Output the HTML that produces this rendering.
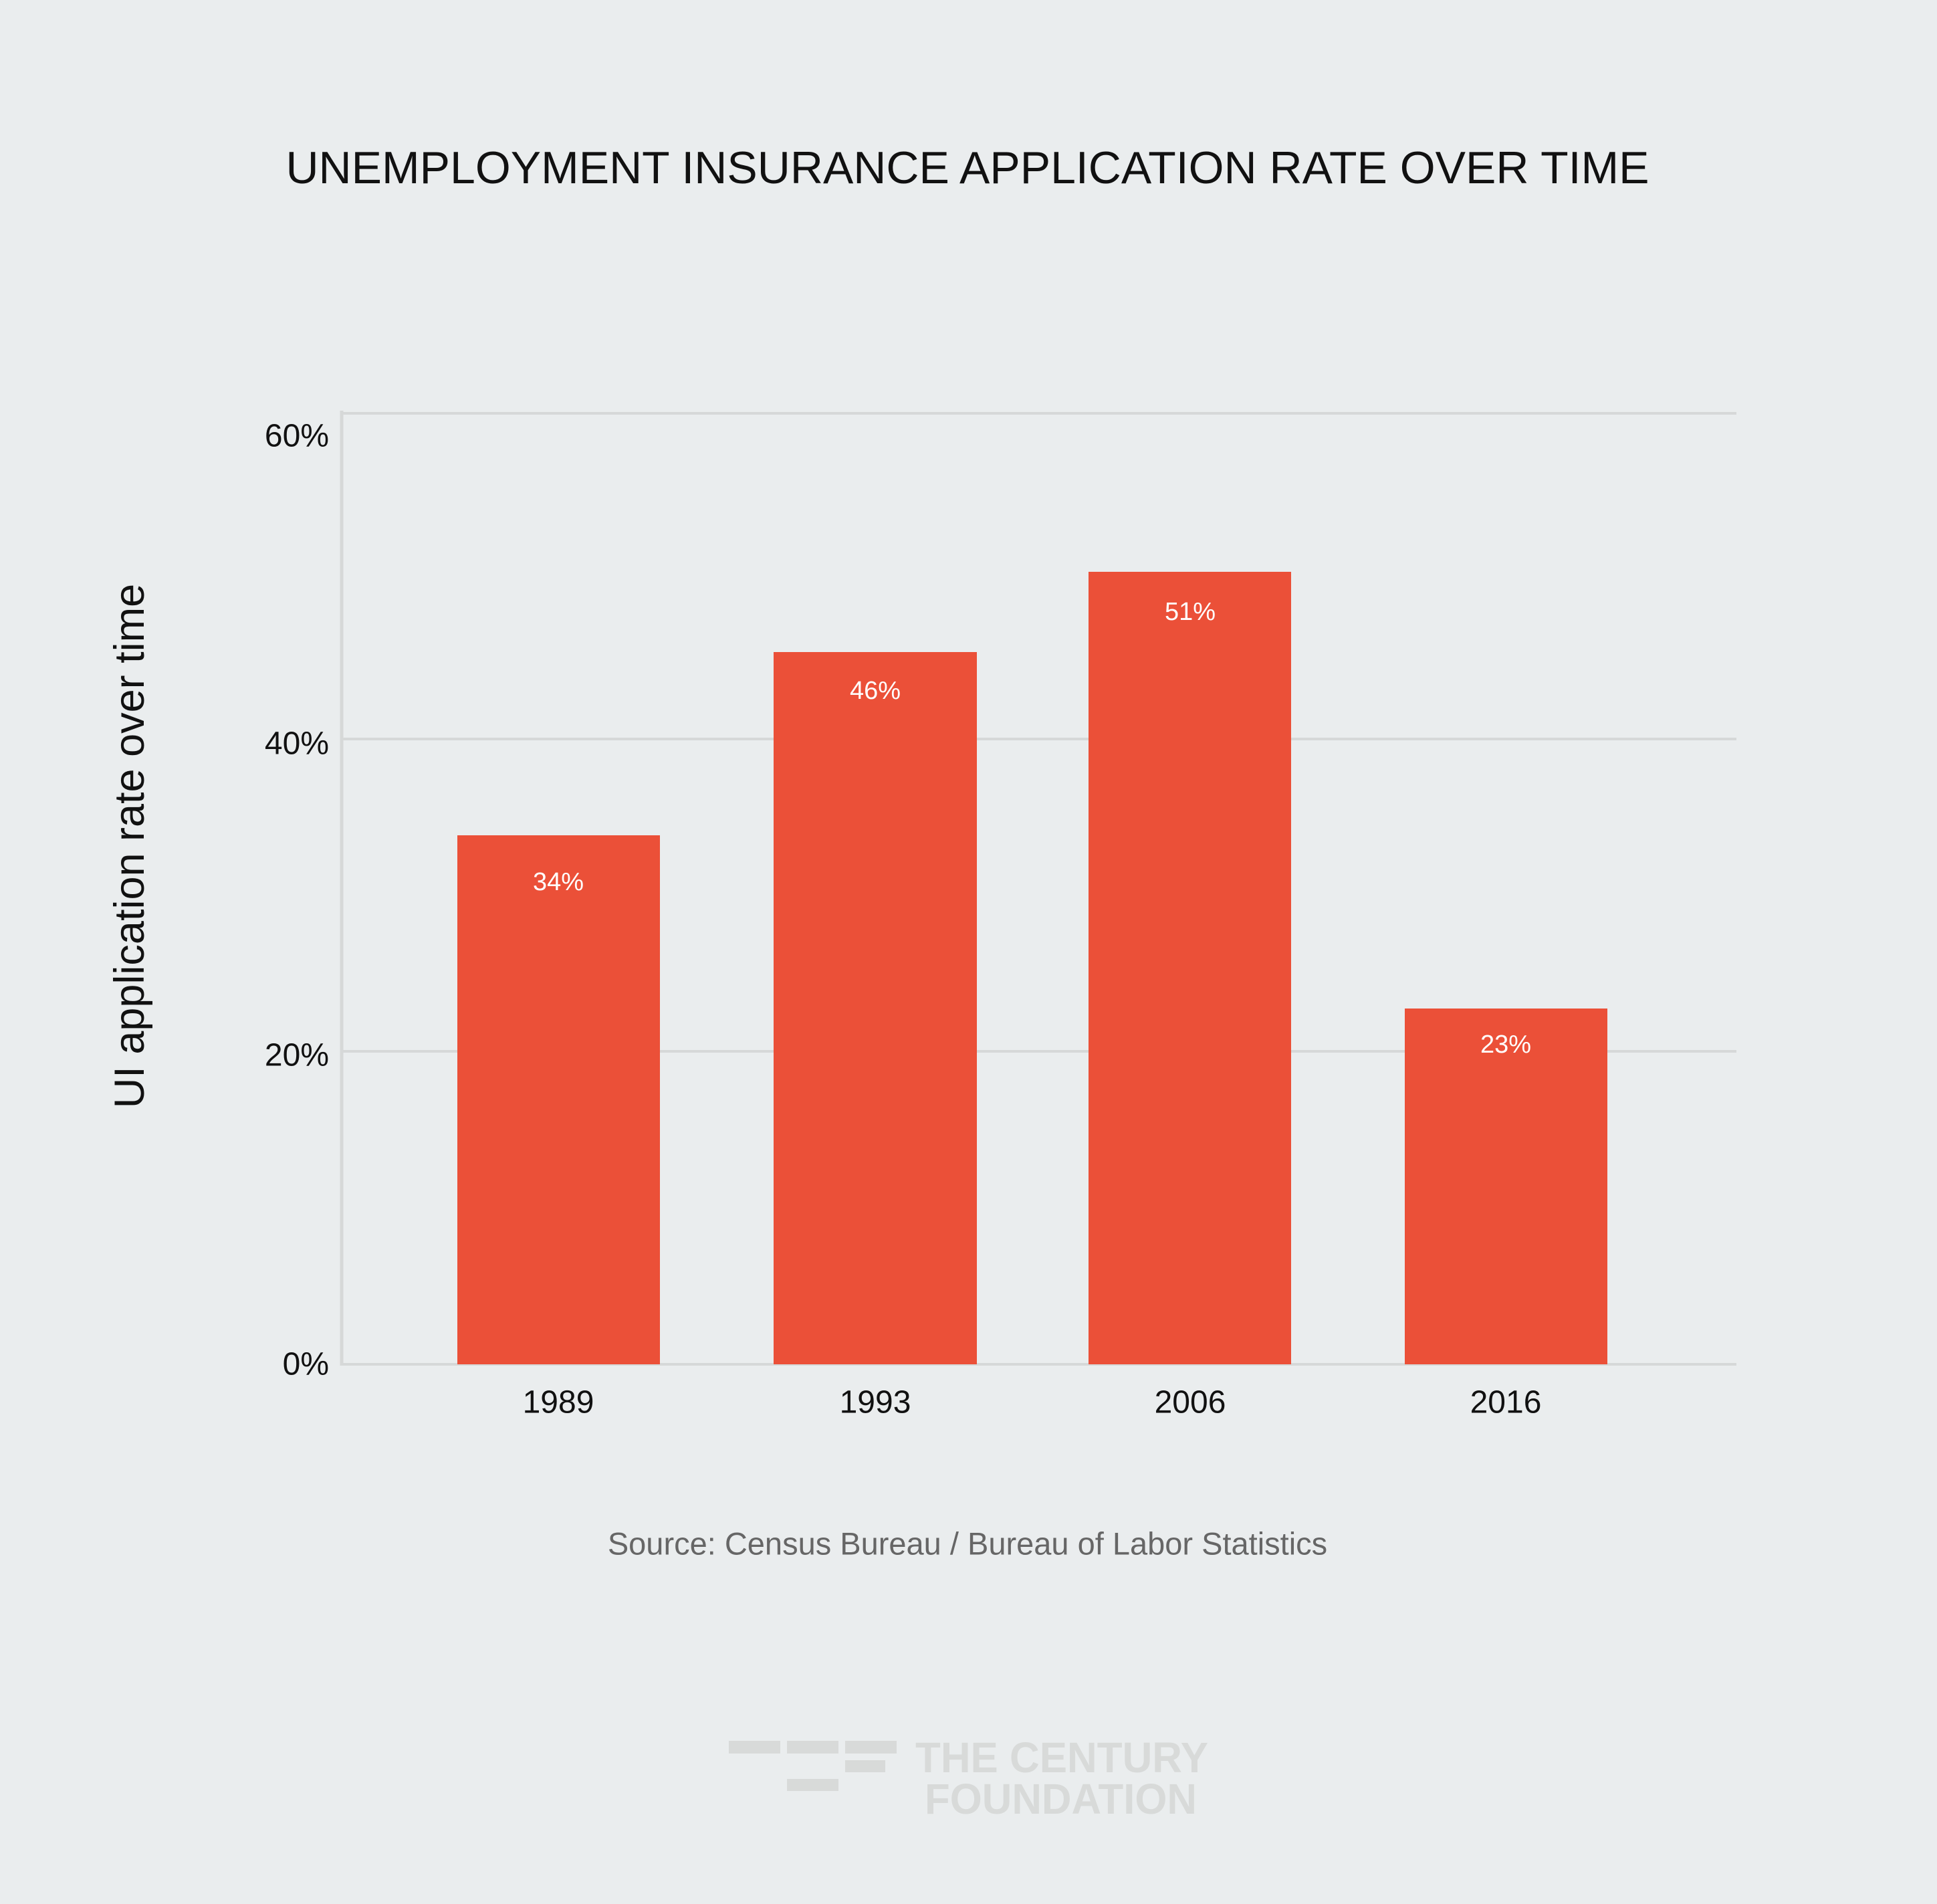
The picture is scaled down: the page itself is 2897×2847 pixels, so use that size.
<!DOCTYPE html>
<html><head><style>
html,body{margin:0;padding:0;background:#eaedee;}
svg{display:block;}
</style></head><body>
<svg width="2897" height="2847" viewBox="0 0 2897 2847" xmlns="http://www.w3.org/2000/svg">
<rect width="2897" height="2847" fill="#eaedee"/>
<text x="1447" y="251" font-family="Liberation Sans, sans-serif" font-size="68" fill="#111" text-anchor="middle" dominant-baseline="central">UNEMPLOYMENT INSURANCE APPLICATION RATE OVER TIME</text>
<g stroke="#d6d8d8" stroke-width="4">
<line x1="510" y1="618" x2="2597" y2="618"/>
<line x1="510" y1="1105" x2="2597" y2="1105"/>
<line x1="510" y1="1572" x2="2597" y2="1572"/>
<line x1="510" y1="2040" x2="2597" y2="2040"/>
<line x1="511" y1="614" x2="511" y2="2042" stroke-width="5"/>
</g>
<g fill="#eb5038">
<rect x="684" y="1249" width="303" height="791"/>
<rect x="1157" y="975" width="304" height="1065"/>
<rect x="1628" y="855" width="303" height="1185"/>
<rect x="2101" y="1508" width="303" height="532"/>
</g>
<g font-family="Liberation Sans, sans-serif" font-size="38" fill="#fff" text-anchor="middle" dominant-baseline="central">
<text x="835" y="1319">34%</text>
<text x="1309" y="1033">46%</text>
<text x="1780" y="915">51%</text>
<text x="2252" y="1562">23%</text>
</g>
<g font-family="Liberation Sans, sans-serif" font-size="48" fill="#111" text-anchor="end" dominant-baseline="central">
<text x="492" y="652">60%</text>
<text x="492" y="1112">40%</text>
<text x="492" y="1578">20%</text>
<text x="492" y="2040">0%</text>
</g>
<g font-family="Liberation Sans, sans-serif" font-size="48" fill="#111" text-anchor="middle" dominant-baseline="central">
<text x="835" y="2097">1989</text>
<text x="1309" y="2097">1993</text>
<text x="1780" y="2097">2006</text>
<text x="2252" y="2097">2016</text>
</g>
<text transform="translate(194,1265) rotate(-90)" font-family="Liberation Sans, sans-serif" font-size="63" fill="#111" text-anchor="middle" dominant-baseline="central">UI application rate over time</text>
<text x="1447" y="2308" font-family="Liberation Sans, sans-serif" font-size="47" fill="#666" text-anchor="middle" dominant-baseline="central">Source:  Census Bureau / Bureau of Labor Statistics</text>
<g fill="#d8dad9">
<rect x="1090" y="2603" width="77" height="19"/>
<rect x="1177" y="2603" width="77" height="19"/>
<rect x="1264" y="2603" width="77" height="19"/>
<rect x="1264" y="2632" width="60" height="18"/>
<rect x="1177" y="2660" width="77" height="18"/>
<text x="1369" y="2650" font-family="Liberation Sans, sans-serif" font-weight="bold" font-size="64" textLength="438" lengthAdjust="spacingAndGlyphs">THE CENTURY</text>
<text x="1383" y="2712" font-family="Liberation Sans, sans-serif" font-weight="bold" font-size="64" textLength="407" lengthAdjust="spacingAndGlyphs">FOUNDATION</text>
</g>
</svg>
</body></html>
